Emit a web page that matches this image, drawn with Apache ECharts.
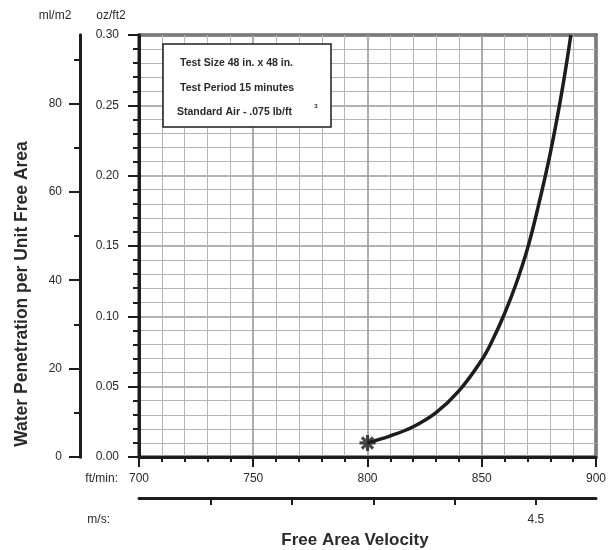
<!DOCTYPE html>
<html>
<head>
<meta charset="utf-8">
<title>Water Penetration</title>
<style>
  html, body { margin: 0; padding: 0; background: #fff; }
  #main { width: 609px; height: 550px; }
</style>
</head>
<body>
<div id="main"></div>
<script src="https://cdn.jsdelivr.net/npm/echarts@6/dist/echarts.min.js"></script>
<script type="text/javascript">
// curve: free area velocity (ft/min) vs penetration (oz/ft2)
var velocity = [800, 810, 820, 830, 840, 850, 855, 860, 865, 870, 875, 880, 885, 889];
var penetration = [0.010, 0.015, 0.0215, 0.0315, 0.047, 0.069, 0.084, 0.102, 0.123, 0.148, 0.180, 0.216, 0.259, 0.300];

// secondary scales
var mlMajor = [0, 20, 40, 60, 80];
var mlMinor = [10, 30, 50, 70, 90];
var mlMax = 95.5;              // 0.30 oz/ft2 in ml/m2
var msTicks = [3.7, 3.9, 4.1, 4.3, 4.5];
var msLabels = [4.5];
var msMin = 3.523, msMax = 4.648;

var legendLines = ['Test Size 48 in. x 48 in.', 'Test Period 15 minutes', 'Standard Air - .075 lb/ft'];

var FONT = 'Liberation Sans, Arial, sans-serif';
var INK = '#1e1c1d';

var myChart = echarts.init(document.getElementById('main'), null, { renderer: 'canvas' });

var lineData = [];
for (var i = 0; i < velocity.length; i++) {
    lineData.push([velocity[i], penetration[i]]);
}

var asterisk = 'path://M0 8H20V12H0Z M8 0H12V20H8Z M1.59 4.41L4.41 1.59L18.41 15.59L15.59 18.41Z M15.59 1.59L18.41 4.41L4.41 18.41L1.59 15.59Z';

var labelStyle = { color: '#2a2a2a', fontSize: 12, fontFamily: FONT };

function txt(s, x, y, align, font) {
    return { type: 'text', x: x, y: y, z: 11,
        style: { text: s, align: align, verticalAlign: 'middle', font: font, fill: '#2a2a2a' } };
}

var option = {
    backgroundColor: '#fff',
    animation: false,
    grid: {
        left: 139, top: 35, right: 13, bottom: 93,
        show: true, borderColor: INK, borderWidth: 3, backgroundColor: 'transparent'
    },
    xAxis: [{
        type: 'value', position: 'bottom',
        min: 700, max: 900, interval: 50,
        axisLine: { lineStyle: { color: INK, width: 3 } },
        axisTick: { length: 10, lineStyle: { color: INK, width: 2 } },
        minorTick: { show: true, splitNumber: 5, length: 5, lineStyle: { color: INK, width: 2 } },
        splitLine: { show: true, lineStyle: { color: '#999', width: 1.6 } },
        minorSplitLine: { show: true, lineStyle: { color: '#b5b5b5', width: 1 } },
        axisLabel: Object.assign({ margin: 16 }, labelStyle)
    }, {
        type: 'value', position: 'bottom', offset: 41,
        min: msMin, max: msMax,
        axisLine: { onZero: false, lineStyle: { color: INK, width: 3 } },
        axisTick: { customValues: msTicks, length: 7, lineStyle: { color: INK, width: 2 } },
        axisLabel: Object.assign({ customValues: msLabels, margin: 16 }, labelStyle),
        splitLine: { show: false }
    }],
    yAxis: [{
        type: 'value', position: 'left',
        min: 0, max: 0.30, interval: 0.05,
        axisLine: { lineStyle: { color: INK, width: 3 } },
        axisTick: { length: 11, lineStyle: { color: INK, width: 2 } },
        minorTick: { show: true, splitNumber: 5, length: 6, lineStyle: { color: INK, width: 2 } },
        splitLine: { show: true, lineStyle: { color: '#999', width: 1.6 } },
        minorSplitLine: { show: true, lineStyle: { color: '#b5b5b5', width: 1 } },
        axisLabel: Object.assign({ margin: 20, formatter: function (v) { return v.toFixed(2); } }, labelStyle)
    }, {
        type: 'value', position: 'left', offset: 59,
        min: 0, max: mlMax,
        axisLine: { show: true, onZero: false, lineStyle: { color: INK, width: 3 } },
        axisTick: { customValues: mlMajor, length: 11, lineStyle: { color: INK, width: 2 } },
        axisLabel: Object.assign({ customValues: mlMajor, margin: 18 }, labelStyle),
        splitLine: { show: false }
    }, {
        type: 'value', position: 'left', offset: 59,
        min: 0, max: mlMax,
        axisLine: { show: true, onZero: false, lineStyle: { color: INK, width: 3 } },
        axisTick: { customValues: mlMinor, length: 6, lineStyle: { color: INK, width: 2 } },
        axisLabel: { show: false },
        splitLine: { show: false }
    }],
    series: [{
        type: 'line',
        xAxisIndex: 0, yAxisIndex: 0,
        data: lineData,
        smooth: 0.4,
        showSymbol: false,
        lineStyle: { color: INK, width: 3.5 },
        z: 5
    }, {
        type: 'scatter',
        xAxisIndex: 0, yAxisIndex: 0,
        data: [lineData[0]],
        symbol: asterisk,
        symbolSize: 16,
        itemStyle: { color: INK },
        z: 6
    }],
    graphic: [
        txt('ml/m2', 55, 16, 'center', '12px ' + FONT),
        txt('oz/ft2', 111, 16, 'center', '12px ' + FONT),
        txt('ft/min:', 118, 479, 'right', '12px ' + FONT),
        txt('m/s:', 110, 520, 'right', '12px ' + FONT),
        txt('Free Area Velocity', 355, 540, 'center', 'bold 17px ' + FONT),
        { type: 'text', x: 22, y: 294, rotation: Math.PI / 2, z: 11,
          style: { text: 'Water Penetration per Unit Free Area', align: 'center', verticalAlign: 'middle', font: 'bold 17.5px ' + FONT, fill: '#2a2a2a' } },
        { type: 'rect', shape: { x: 163, y: 44, width: 168, height: 83 }, style: { fill: '#fff', stroke: INK, lineWidth: 1.5 }, z: 10 },
        txt(legendLines[0], 180, 63, 'left', 'bold 10.5px ' + FONT),
        txt(legendLines[1], 180, 88, 'left', 'bold 10.5px ' + FONT),
        txt(legendLines[2], 177, 112, 'left', 'bold 10.5px ' + FONT),
        txt('3', 316, 106, 'center', 'bold 6px ' + FONT)
    ]
};

myChart.setOption(option);
</script>
</body>
</html>
